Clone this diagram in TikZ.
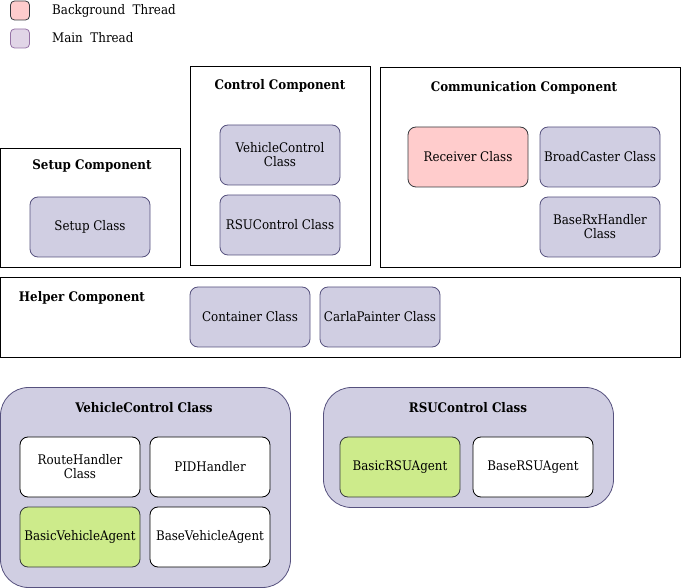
\documentclass[tikz,border=0pt]{standalone}
\usepackage{fontspec}
\setmainfont{DejaVu Serif Condensed}
\definecolor{lav}{HTML}{D0CEE2}
\definecolor{lavd}{HTML}{56517E}
\definecolor{pinkf}{HTML}{FFCCCC}
\definecolor{greyd}{HTML}{36393D}
\definecolor{greenf}{HTML}{CDEB8B}
\definecolor{legf}{HTML}{E1D5E7}
\definecolor{legd}{HTML}{9673A6}
\tikzset{
  cls/.style={draw=lavd, fill=lav, rounded corners=8pt, minimum width=120pt, minimum height=60pt, align=center, inner sep=0pt, font=\fontsize{13.2}{14}\selectfont, line width=0.8pt},
  rcv/.style={cls, draw=greyd, fill=pinkf},
  grn/.style={cls, draw=greyd, fill=greenf},
  wht/.style={cls, draw=black, fill=white},
  comp/.style={draw=black, line width=1pt},
  bigc/.style={draw=lavd, fill=lav, line width=0.8pt, rounded corners=28pt},
  ttl/.style={font=\bfseries\fontsize{13.2}{14}\selectfont, inner sep=0pt},
  legt/.style={font=\fontsize{13.2}{14}\selectfont, anchor=west, inner sep=0pt},
}
\begin{document}
\begin{tikzpicture}[x=1pt,y=-1pt]
\useasboundingbox (0,0) rectangle (681,588);
% legend
\node[draw=greyd, fill=pinkf, rounded corners=4pt, minimum width=19pt, minimum height=19pt, inner sep=0pt, line width=0.8pt] (lbg) at (20,10.5) {};
\node[draw=legd, fill=legf, rounded corners=4pt, minimum width=19pt, minimum height=19pt, inner sep=0pt, line width=0.8pt] (lmt) at (20,38.5) {};
\node[legt] (lbgt) at (52,11) {Background\ \ Thread};
\node[legt] (lmtt) at (52,38) {Main\ \ Thread};
% setup
\draw[comp] (0.5,148.5) rectangle (180.5,267.5);
\node[ttl] (tsetup) at (92,166) {Setup Component};
\node[cls] (setup) at (90,227) {Setup Class};
% control
\draw[comp] (190.5,66.5) rectangle (370.5,265.5);
\node[ttl] (tctrl) at (280,86) {Control Component};
\node[cls] (vcc) at (280,155) {VehicleControl\\Class};
\node[cls] (rsuc) at (280,225) {RSUControl Class};
% communication
\draw[comp] (380.5,67.5) rectangle (680.5,267.5);
\node[ttl] (tcomm) at (524,88) {Communication Component};
\node[rcv] (recv) at (468,157) {Receiver Class};
\node[cls] (bcast) at (600,157) {BroadCaster Class};
\node[cls] (brx) at (600,227) {BaseRxHandler\\Class};
% helper
\draw[comp] (0.5,277.5) rectangle (680.5,357.5);
\node[ttl] (thelp) at (82,298) {Helper Component};
\node[cls] (cont) at (250,317) {Container Class};
\node[cls] (carla) at (380,317) {CarlaPainter Class};
% vehicle control class
\draw[bigc] (0.5,387.5) rectangle (290.5,587.5);
\node[ttl] (tvc) at (144,408) {VehicleControl Class};
\node[wht] (route) at (80,467) {RouteHandler\\Class};
\node[wht] (pid) at (210,467) {PIDHandler};
\node[grn] (bva) at (80,537) {BasicVehicleAgent};
\node[wht] (bsva) at (210,537) {BaseVehicleAgent};
% rsu control class
\draw[bigc] (323.5,387.5) rectangle (613.5,507.5);
\node[ttl] (trsu) at (468,408) {RSUControl Class};
\node[grn] (bra) at (400,467) {BasicRSUAgent};
\node[wht] (bsra) at (533,467) {BaseRSUAgent};
\end{tikzpicture}
\end{document}
